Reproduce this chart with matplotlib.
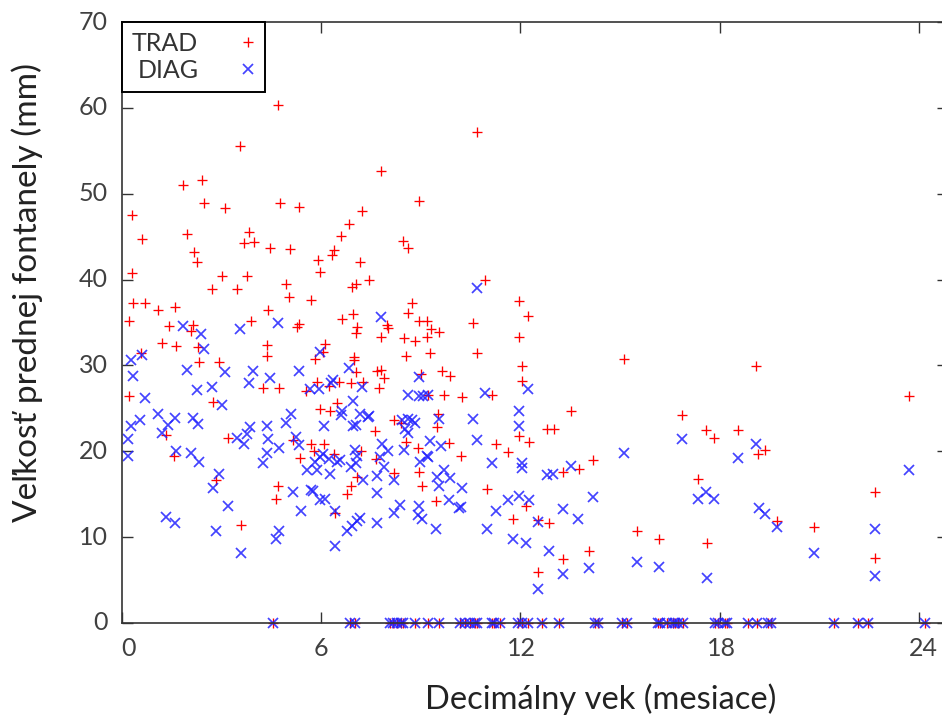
import numpy as np
import matplotlib
matplotlib.use("Agg")
import matplotlib.pyplot as plt
from matplotlib.transforms import ScaledTranslation

# (age in months, fontanelle size in mm)
trad_points = [
    (4.71,60.3),(3.54,55.5),(7.80,52.7),(1.85,51.0),(2.40,51.6),(2.48,48.9),(3.10,48.3),(4.76,48.9),
    (5.34,48.5),(0.29,47.5),(7.22,48.0),(6.85,46.5),(6.59,45.1),(1.95,45.3),(0.60,44.7),(3.82,45.5),
    (3.68,44.3),(3.97,44.4),(4.45,43.7),(5.07,43.6),(6.38,43.4),(6.32,42.9),(5.91,42.3),(7.17,42.0),
    (2.17,43.2),(2.26,42.0),(5.95,40.9),(0.29,40.8),(3.02,40.4),(3.77,40.4),(7.44,39.9),(4.94,39.5),
    (7.04,39.5),(6.94,39.1),(2.70,38.9),(3.45,38.9),(5.02,38.0),(5.68,37.6),(0.32,37.3),(0.69,37.3),
    (1.09,36.4),(1.59,36.8),(4.41,36.5),(6.95,36.0),(6.64,35.4),(0.20,35.2),(3.88,35.2),(1.41,34.6),
    (2.13,34.7),(5.34,34.8),(5.26,34.5),(7.07,34.5),(7.97,34.7),(2.08,34.0),(7.05,33.8),(7.79,33.3),
    (1.21,32.6),(1.63,32.3),(2.30,32.1),(4.36,32.4),(4.36,31.1),(6.11,32.5),(6.06,31.6),(0.56,31.4),
    (5.82,30.7),(7.00,31.0),(7.00,30.6),(2.33,30.4),(2.92,30.4),(7.05,29.2),(7.67,29.4),(7.79,29.5),
    (7.89,28.5),(5.86,28.1),(6.55,28.1),(6.90,28.0),(7.27,28.1),(4.26,27.4),(4.72,27.4),(5.54,27.0),
    (6.23,27.6),(7.75,27.4),(0.20,26.4),(2.75,25.7),(6.47,25.6),(5.95,24.9),(6.27,24.7),(7.62,22.4),
    (1.33,21.9),(3.18,21.6),(5.16,21.3),(5.68,20.9),(6.09,20.9),(5.78,20.0),(6.39,19.7),(7.19,20.0),
    (7.65,19.1),(1.58,19.5),(5.37,19.2),(2.83,16.7),(7.08,17.0),(6.90,16.0),(6.77,15.0),(4.71,15.9),
    (4.63,14.5),(6.42,12.8),(3.59,11.4),(8.19,23.6),(8.39,23.3),(8.55,21.1),(8.92,20.4),(9.53,24.3),
    (9.50,22.8),(9.85,21.0),(8.19,17.5),(8.95,17.6),(9.05,15.9),(9.45,14.2),
    (10.69,57.2),(8.96,49.1),(8.45,44.5),(8.60,43.7),(10.92,39.9),(8.73,37.3),(11.95,37.5),(12.22,35.7),
    (8.60,36.1),(8.96,35.2),(9.19,35.2),(10.56,34.9),(8.02,34.4),(9.31,34.2),(9.55,33.9),(8.49,33.2),
    (9.18,33.3),(8.82,32.8),(11.95,33.3),(8.55,31.1),(9.28,31.4),(10.69,31.4),(12.04,29.9),(9.00,29.0),
    (9.63,29.4),(9.89,28.8),(12.04,28.2),(15.12,30.7),(9.23,26.6),(9.71,26.5),(10.25,26.3),(11.15,26.6),
    (13.51,24.7),(12.79,22.6),(13.01,22.6),(11.95,21.8),(12.27,21.1),(11.28,20.9),(11.64,19.9),(10.20,19.5),
    (14.18,19.0),(13.75,17.9),(13.29,17.6),(11.00,15.6),(12.16,13.6),(11.77,12.1),(12.53,12.0),(12.85,11.7),
    (15.51,10.7),(16.16,9.8),(14.08,8.4),(13.27,7.4),(12.53,5.9),
    (19.10,29.9),(16.87,24.2),(23.70,26.4),(17.58,22.5),(17.84,21.6),(18.55,22.5),(19.37,20.1),(19.17,19.7),
    (17.36,16.8),(22.67,15.3),(19.72,11.9),(20.83,11.2),(17.63,9.3),(22.67,7.6),
]

diag_points = [
    (1.85,34.6),(3.55,34.2),(4.71,35.0),(7.80,35.6),(2.38,33.7),(2.48,31.9),(0.27,30.6),(0.60,31.2),
    (5.96,31.6),(1.95,29.5),(3.10,29.2),(3.96,29.3),(5.34,29.3),(6.85,29.7),(0.34,28.8),(3.82,28.0),
    (4.45,28.5),(6.35,28.3),(6.29,27.9),(2.70,27.5),(2.25,27.1),(5.66,27.2),(5.94,27.3),(7.22,27.5),
    (0.69,26.2),(3.02,25.4),(6.95,25.9),(5.08,24.3),(6.64,24.7),(6.59,24.2),(7.17,24.4),(7.42,24.0),
    (1.09,24.3),(1.60,23.9),(2.15,23.9),(2.30,23.2),(0.54,23.6),(0.28,22.9),(1.40,23.1),(4.94,23.3),
    (4.36,22.9),(3.87,22.8),(3.77,22.0),(6.09,22.9),(6.95,22.9),(7.05,23.1),(3.45,21.6),(3.67,20.9),
    (4.41,21.4),(5.24,21.7),(5.34,20.7),(4.72,20.4),(4.36,19.8),(4.26,18.6),(1.21,22.1),(0.19,21.4),
    (1.63,20.0),(0.19,19.5),(2.07,19.8),(2.33,18.8),(2.92,17.4),(2.75,15.7),(3.18,13.6),(1.33,12.4),
    (1.60,11.7),(2.83,10.7),(4.72,10.7),(4.63,9.8),(3.59,8.1),(6.42,9.0),(5.38,13.1),(5.16,15.2),
    (5.68,15.5),(5.76,15.4),(5.96,14.3),(6.11,14.4),(6.42,13.1),(6.77,10.7),(6.92,11.3),(7.07,11.9),
    (7.17,12.2),(7.67,11.6),(7.67,15.1),(6.27,17.3),(5.56,17.8),(5.86,17.8),(5.81,18.7),(5.96,19.3),
    (6.06,19.7),(6.23,19.1),(6.47,18.8),(6.57,19.0),(6.91,18.2),(7.05,18.6),(7.07,19.5),(7.02,20.2),
    (7.27,16.7),(7.67,17.1),(7.82,20.8),(7.77,19.3),(7.89,18.2),(7.45,24.1),
    (8.02,20.0),(8.96,28.6),(8.60,26.6),(8.96,26.4),(9.08,26.4),(9.23,26.5),(10.92,26.8),(12.22,27.3),
    (11.95,24.7),(11.95,23.0),(10.56,23.8),(9.54,23.8),(8.42,23.6),(8.60,23.8),(8.74,23.6),(8.82,23.3),
    (8.52,22.6),(8.60,22.1),(10.69,21.3),(10.69,39.0),
    (15.12,19.8),(13.51,18.3),(12.79,17.2),(12.99,17.4),(14.18,14.7),(13.27,13.3),(13.74,12.1),(11.95,14.8),
    (12.27,14.3),(11.64,14.3),(11.28,13.1),(11.00,10.9),(11.77,9.8),(12.16,9.3),(12.53,11.8),(12.85,8.4),
    (13.27,5.7),(12.53,4.0),(14.08,6.4),(15.51,7.1),(16.16,6.5),(11.15,18.6),(12.04,18.6),(12.04,18.1),
    (10.25,15.7),(10.20,13.5),(9.85,14.3),(9.89,16.9),(9.71,17.8),(9.50,17.0),(9.54,16.0),(9.45,11.0),
    (8.96,13.6),(8.91,12.6),(9.04,12.1),(8.37,13.8),(8.19,12.8),(9.28,21.2),(9.62,20.6),(8.49,20.2),
    (9.18,19.5),(8.99,18.8),(9.23,19.3),(8.19,16.7),(10.14,13.4),
    (16.87,21.4),(19.10,20.9),(18.55,19.2),(23.70,17.8),(17.36,14.5),(17.58,15.2),(17.84,14.5),(19.19,13.4),
    (19.37,12.7),(19.72,11.2),(20.83,8.1),(22.67,11.0),(22.67,5.5),(17.63,5.2),
]

# ages where the size was recorded as 0, both methods
zero_ages = [4.56,6.87,7.02,8.07,8.17,8.27,8.39,8.47,8.82,9.21,9.55,10.18,10.33,10.48,10.63,10.70,
             11.15,11.20,11.40,11.94,12.04,12.24,12.66,13.15,14.25,14.35,15.05,15.20,16.15,16.19,
             16.41,16.59,16.66,16.76,16.91,17.86,17.96,18.16,18.23,18.87,19.14,19.47,19.54,21.46,
             22.18,22.48,24.19]

x_ticks = [0, 6, 12, 18, 24]
y_ticks = [0, 10, 20, 30, 40, 50, 60, 70]

plt.rcParams['font.family'] = ['Lato', 'DejaVu Sans']

trad = np.array(trad_points)
diag = np.array(diag_points)
zeros = np.array(zero_ages)

W, H = 942, 716
fig = plt.figure(figsize=(W / 100, H / 100), dpi=100)
ax = fig.add_axes([122 / W, (H - 623) / H, 826 / W, 601 / H])

ax.plot(np.r_[trad[:, 0], zeros], np.r_[trad[:, 1], 0 * zeros], ls='none', marker='+', ms=7.8,
        mew=0.95, color='#ff0000', clip_on=False, label='TRAD')
ax.plot(np.r_[diag[:, 0], zeros], np.r_[diag[:, 1], 0 * zeros], ls='none', marker='x', ms=7.5,
        mew=1.25, color='#2222ff', alpha=0.85, clip_on=False, label='DIAG')

ax.set_xlim(0, 826 / 33.2)
ax.set_ylim(0, 70)
ax.set_xticks(x_ticks)
ax.set_yticks(y_ticks)
ax.tick_params(direction='in', length=8, width=1.0, color='#333333', top=True, right=True,
               labelsize=18, labelcolor='#404040', pad=10)
for s in ax.spines.values():
    s.set_linewidth(1.2)
    s.set_color('#333333')

# the pasted tick labels sit a little off their ticks
dx = {0: 6, 6: 0, 12: 1, 18: 2, 24: 5}
for val, lab in zip(x_ticks, ax.get_xticklabels()):
    lab.set_transform(lab.get_transform() + ScaledTranslation(dx[val] / 100, 0, fig.dpi_scale_trans))
for lab in ax.get_yticklabels():
    lab.set_transform(lab.get_transform() + ScaledTranslation(0, 2 / 100, fig.dpi_scale_trans))

leg = ax.legend(loc='upper left', bbox_to_anchor=(0, 1), borderaxespad=0, markerfirst=False,
                fancybox=False, framealpha=1, edgecolor='black', fontsize=18, labelspacing=0.15,
                handlelength=0.56, handletextpad=1.72, borderpad=0.4, numpoints=1)
leg.get_frame().set_linewidth(1.4)
leg.set_zorder(5)
for t in leg.get_texts():
    t.set_color('#333333')

fig.text(601 / W, 1 - 699 / H, 'Decimálny vek (mesiace)', ha='center', va='center', fontsize=23.5,
         color='#222222')
fig.text(27 / W, 1 - 292 / H, 'Veľkosť prednej fontanely (mm)', ha='center', va='center',
         rotation=90, fontsize=24, color='#222222')

fig.savefig('out.png', dpi=100)
